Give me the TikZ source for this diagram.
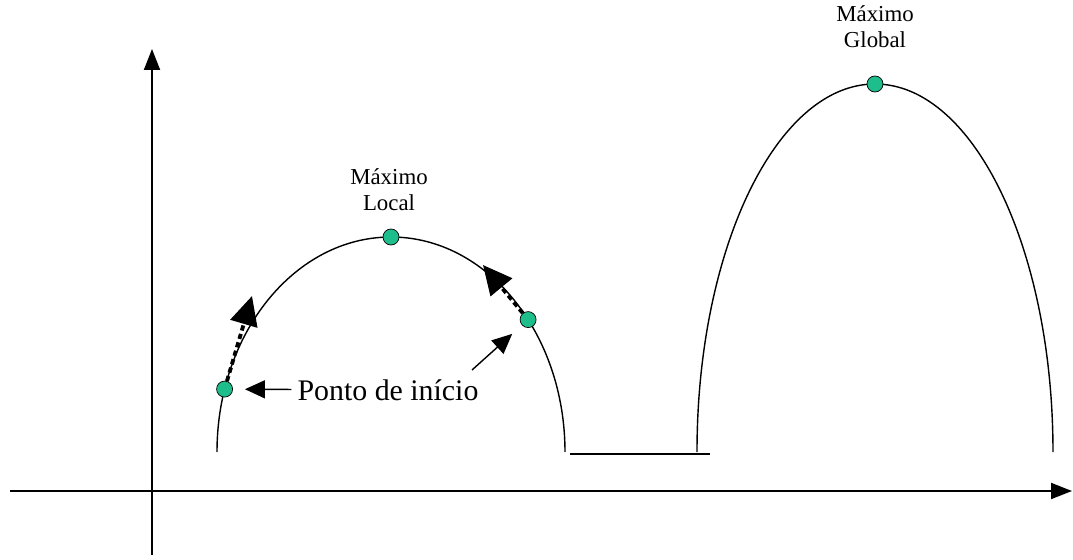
\documentclass[tikz,border=0pt]{standalone}
\usepackage{fontspec}
\setmainfont{Liberation Serif}
\usetikzlibrary{arrows.meta,positioning}
\definecolor{dotgreen}{RGB}{30,190,140}

\begin{document}
\begin{tikzpicture}[x=0.02cm, y=0.02cm,
  axis/.style={line width=1.1pt, -{Triangle[length=0.42cm, width=0.32cm]}},
  hump/.style={line width=0.8pt},
  pt/.style={circle, draw=black, line width=0.4pt, fill=dotgreen, minimum size=0.32cm, inner sep=0pt},
  climb/.style={line width=2.2pt, dash pattern=on 3pt off 2pt, -{Triangle[length=0.58cm, width=0.55cm]}},
  pointer/.style={line width=0.8pt, -{Triangle[length=0.4cm, width=0.36cm]}},
  lbl/.style={font=\fontsize{13}{14.7}\selectfont, align=center}]

  \useasboundingbox (0,0) rectangle (1073,559);

  % Axes
  \coordinate (xs) at (10,68);
  \coordinate (xe) at (1072,68);
  \coordinate (ys) at (152,4);
  \coordinate (ye) at (152,510);
  \draw[axis] (xs) -- (xe);
  \draw[axis] (ys) -- (ye);

  % Local hump
  \draw[hump] (217,107) arc[start angle=180, end angle=0, x radius=174, y radius=215];

  % Flat stretch
  \draw[hump] (570,105) -- (710,105);

  % Global hump
  \draw[hump] (697,107) arc[start angle=180, end angle=0, x radius=178, y radius=368];

  % Points on the curves
  \node[pt] (lmax) at (391,322) {};
  \node[pt] (startpt) at (224.6,169.9) {};
  \node[pt] (rpt) at (528.1,239.4) {};
  \node[pt] (gmax) at (875,475) {};

  % Labels
  \node[lbl] (lmaxlbl) at (389,369) {Máximo\\Local};
  \node[lbl] (gmaxlbl) at (875,532) {Máximo\\Global};
  \node[font=\fontsize{17}{19}\selectfont] (ponto) at (388,169) {Ponto de início};

  % Arrows
  \coordinate (ltip) at (252,263);
  \coordinate (rtip) at (483,294);
  \coordinate (ptail) at (472,189);
  \draw[climb] (startpt) -- (ltip);
  \draw[climb] (rpt) -- (rtip);
  \draw[pointer, shorten >=0.24cm] (ponto) -- (startpt);
  \draw[pointer, shorten >=0.26cm] (ptail) -- (rpt);

\end{tikzpicture}
\end{document}
